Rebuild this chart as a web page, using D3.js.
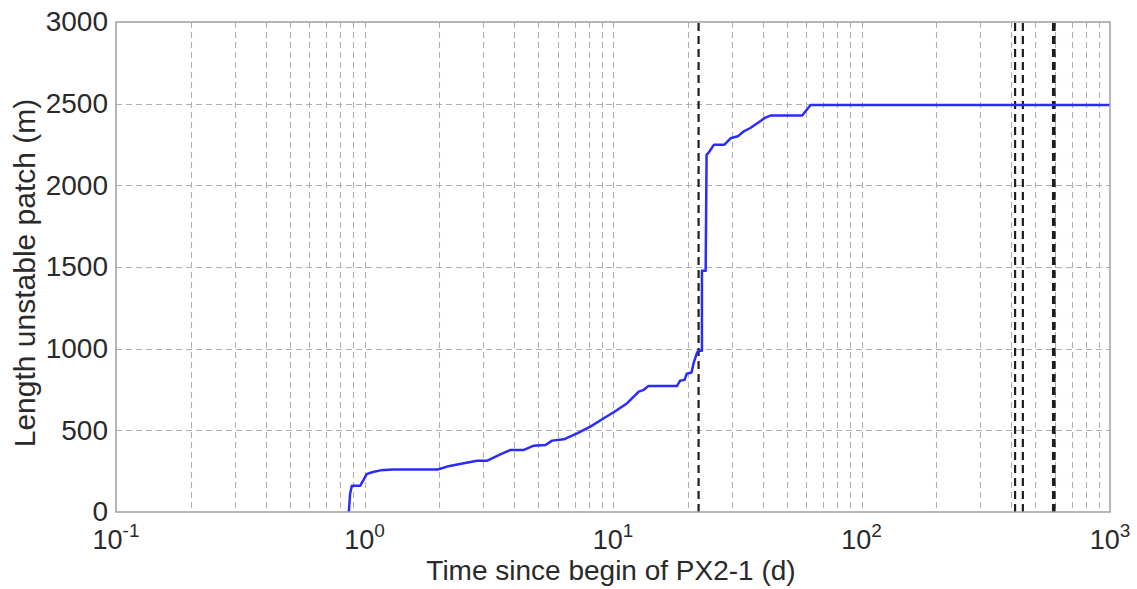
<!DOCTYPE html>
<html>
<head>
<meta charset="utf-8">
<script src="https://cdn.jsdelivr.net/npm/d3@7"></script>
<style>
  html, body { margin: 0; padding: 0; background: #fff; }
  svg { display: block; font-family: "Liberation Sans", Arial, Helvetica, sans-serif; }
</style>
</head>
<body>
<svg id="chart" width="1137" height="589"></svg>
<script>
// Cumulative length of the unstable patch over time
const timeDays = [0.865, 0.875, 0.889, 0.96, 0.99, 1.02, 1.08, 1.16, 1.3, 1.97, 2.15, 2.51, 2.84, 3.12,
  3.52, 3.87, 4.38, 4.80, 5.35, 5.69, 6.34, 7.17, 8.11, 9.18, 10.07, 11.4, 12.7, 13.3, 13.9,
  18.1, 18.6, 19.4, 19.8, 20.7, 21.1, 21.8, 22.1, 22.8, 22.8, 23.6, 23.8, 24.2, 25.5, 28.1,
  29.7, 31.8, 33.6, 35.7, 38.6, 41.1, 43.0, 57.7, 62.4, 1000];
const patchLength = [0, 110, 160, 160, 195, 232, 245, 255, 260, 260, 278, 298, 314, 314,
  353, 380, 380, 406, 410, 437, 445, 482, 523, 574, 611, 666, 737, 748, 772,
  772, 803, 809, 846, 854, 911, 976, 987, 987, 1477, 1477, 2188, 2198, 2249, 2249,
  2288, 2300, 2331, 2351, 2386, 2415, 2427, 2427, 2492, 2492];

// Event markers (days)
const eventTimes = [22.1, 415, 446, 590, 598];

// Axis ticks
const xDecades = [0.1, 1, 10, 100, 1000];
const xDecadeExponents = ["-1", "0", "1", "2", "3"];
const yTicks = [0, 500, 1000, 1500, 2000, 2500, 3000];

const xLabel = "Time since begin of PX2-1 (d)";
const yLabel = "Length unstable patch (m)";

const svg = d3.select("#chart");
const margin = { left: 116, right: 27, top: 22, bottom: 77 };
const W = 1137, H = 589;

const x = d3.scaleLog().domain([0.1, 1000]).range([margin.left, W - margin.right]);
const y = d3.scaleLinear().domain([0, 3000]).range([H - margin.bottom, margin.top]);

const x0 = x.range()[0], x1 = x.range()[1];
const y0 = y.range()[0], y1 = y.range()[1];

// Grid
const minorX = [];
xDecades.slice(0, -1).forEach(d => { for (let k = 2; k <= 9; k++) minorX.push(d * k); });
const gridX = minorX.concat(xDecades.slice(1, -1));

const grid = svg.append("g").attr("stroke", "#b0b0b0").attr("stroke-width", 1.1)
  .attr("stroke-dasharray", "6,4").attr("fill", "none");
grid.selectAll("line.gx").data(gridX).join("line").attr("class", "gx")
  .attr("x1", d => Math.round(x(d)) + 0.5).attr("x2", d => Math.round(x(d)) + 0.5)
  .attr("y1", y1).attr("y2", y0);
grid.selectAll("line.gy").data(yTicks.slice(1, -1)).join("line").attr("class", "gy")
  .attr("x1", x0).attr("x2", x1)
  .attr("y1", d => Math.round(y(d)) + 0.5).attr("y2", d => Math.round(y(d)) + 0.5);

// Event lines
svg.append("g").selectAll("line").data(eventTimes).join("line")
  .attr("x1", d => x(d)).attr("x2", d => x(d))
  .attr("y1", y0).attr("y2", y1)
  .attr("stroke", "#1e1e1e").attr("stroke-width", 2.2)
  .attr("stroke-dasharray", "8,5");

// Curve
const pts = timeDays.map((t, i) => [t, patchLength[i]]);
svg.append("path").datum(pts)
  .attr("fill", "none").attr("stroke", "#2b2bff").attr("stroke-width", 2.5)
  .attr("stroke-linejoin", "round")
  .attr("d", d3.line().x(d => x(d[0])).y(d => y(d[1])));

// Frame
svg.append("rect").attr("x", x0).attr("y", y1).attr("width", x1 - x0).attr("height", y0 - y1)
  .attr("fill", "none").attr("stroke", "#a0a0a0").attr("stroke-width", 1.5);

// Y axis tick labels
const textColor = "#2a2a2a";
const yAxis = svg.append("g").attr("transform", `translate(${x0},0)`)
  .call(d3.axisLeft(y).tickValues(yTicks).tickSize(0).tickPadding(8).tickFormat(d3.format("d")));
yAxis.select(".domain").remove();
yAxis.selectAll("text").attr("font-size", 28).attr("fill", textColor)
  .attr("font-family", "Liberation Sans, Arial, sans-serif");

// X axis tick labels with exponents
const xt = svg.append("g").selectAll("text").data(xDecades).join("text")
  .attr("x", d => x(d)).attr("y", 549)
  .attr("text-anchor", "middle").attr("fill", textColor).attr("font-size", 27);
xt.append("tspan").text("10");
xt.append("tspan").attr("dy", -12).attr("font-size", 19).text((d, i) => xDecadeExponents[i]);

// Axis titles
svg.append("text").attr("x", (x0 + x1) / 2 - 2).attr("y", 580)
  .attr("text-anchor", "middle").attr("fill", textColor).attr("font-size", 28)
  .text(xLabel);
svg.append("text").attr("transform", `translate(35,273) rotate(-90)`)
  .attr("text-anchor", "middle").attr("fill", textColor).attr("font-size", 30)
  .text(yLabel);
</script>
</body>
</html>
